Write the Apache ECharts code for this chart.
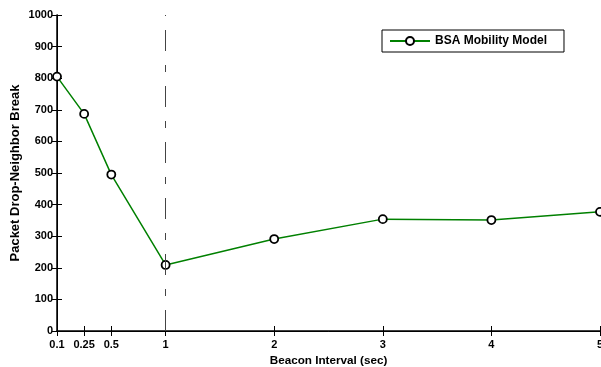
<!DOCTYPE html>
<html><head><meta charset="utf-8">
<script src="https://cdn.jsdelivr.net/npm/echarts@6/dist/echarts.min.js"></script>
<style>html,body{margin:0;padding:0;background:#fff}#c{width:601px;height:367px}</style>
</head><body><div id="c"></div>
<script>
const xPositions = [0, 0.25, 0.5, 1, 2, 3, 4, 5];
const xTickValues = [0, 0.25, 0.5, 1, 2, 3, 4, 5];
const xTickLabels = ["0.1", "0.25", "0.5", "1", "2", "3", "4", "5"];
const seriesValues = [805, 687, 495, 209, 291, 354, 351, 377];
const seriesName = "BSA Mobility Model";
const markX = 1;

const font = 'Liberation Sans, Arial, sans-serif';
const chart = echarts.init(document.getElementById('c'), null, {renderer: 'canvas'});
const axisLineStyle = {color: '#000', width: 1.5};
chart.setOption({
  animation: false,
  backgroundColor: '#fff',
  grid: {left: 57, right: 1, top: 15, bottom: 36, outerBoundsMode: 'none', containLabel: false},
  legend: {
    left: 382, top: 30,
    padding: [5, 17, 5, 7],
    borderColor: '#000', borderWidth: 1,
    itemWidth: 40, itemHeight: 10, itemGap: 5,
    textStyle: {fontFamily: font, fontWeight: 'bold', fontSize: 12, color: '#000'},
    data: [seriesName]
  },
  xAxis: [{
    type: 'value', min: 0, max: 5,
    name: 'Beacon Interval (sec)', nameLocation: 'middle', nameGap: 22,
    nameTextStyle: {fontFamily: font, fontWeight: 'bold', fontSize: 11.7, color: '#000'},
    axisLine: {show: true, lineStyle: axisLineStyle},
    axisTick: {show: true, inside: true, length: 5, customValues: xTickValues, lineStyle: {color: '#000'}},
    axisLabel: {customValues: xTickValues, margin: 8, fontFamily: font, fontWeight: 'bold', fontSize: 11, color: '#000',
      formatter: v => { const i = xTickValues.indexOf(v); return i >= 0 ? xTickLabels[i] : ''; }},
    splitLine: {show: false}
  }, {
    type: 'value', min: 0, max: 5, position: 'top',
    axisLine: {show: true, lineStyle: {color: '#000', width: 1}},
    axisTick: {show: true, inside: true, length: 5, customValues: xTickValues, lineStyle: {color: '#000'}},
    axisLabel: {show: false}, splitLine: {show: false}
  }],
  yAxis: [{
    type: 'value', min: 0, max: 1000, interval: 100,
    name: 'Packet Drop-Neighbor Break', nameLocation: 'middle', nameGap: 35, nameMoveOverlap: false,
    nameTextStyle: {fontFamily: font, fontWeight: 'bold', fontSize: 13, color: '#000'},
    axisLine: {show: true, lineStyle: axisLineStyle},
    axisTick: {show: true, inside: true, length: 5, lineStyle: {color: '#000'}},
    axisLabel: {margin: 4, fontFamily: font, fontWeight: 'bold', fontSize: 11, color: '#000', formatter: v => String(v)},
    splitLine: {show: false}
  }, {
    type: 'value', min: 0, max: 1000, interval: 100, position: 'right',
    axisLine: {show: true, lineStyle: {color: '#000', width: 1}},
    axisTick: {show: true, inside: true, length: 5, lineStyle: {color: '#000'}},
    axisLabel: {show: false}, splitLine: {show: false}
  }],
  series: [{
    name: seriesName, type: 'line',
    data: xPositions.map((x, i) => [x, seriesValues[i]]),
    symbol: 'circle', symbolSize: 8,
    itemStyle: {color: '#fff', borderColor: '#000', borderWidth: 1.8},
    lineStyle: {color: '#008000', width: 1.5},
    markLine: {
      silent: true, symbol: 'none', label: {show: false},
      lineStyle: {color: '#444', width: 1, type: [21, 14, 7, 14]},
      data: [{xAxis: markX}]
    },
    z: 3
  }]
});
</script></body></html>
